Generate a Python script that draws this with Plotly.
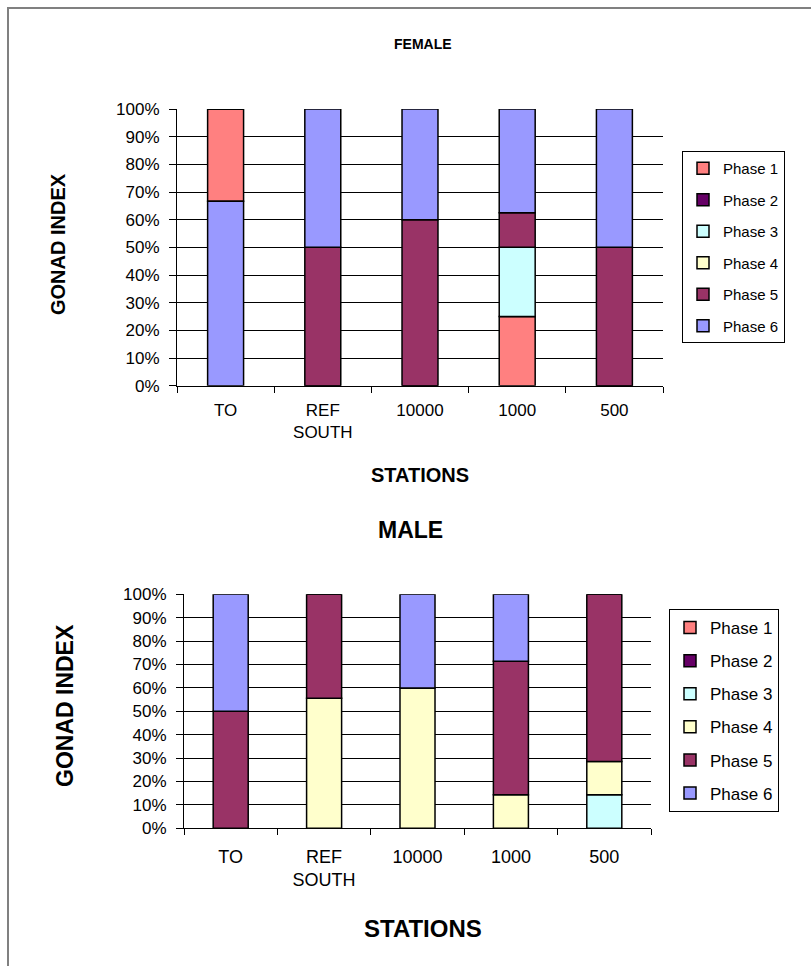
import plotly.graph_objects as go

W, H = 811, 966

stations = ["TO", "REF<br>SOUTH", "10000", "1000", "500"]
phases = ["Phase 1", "Phase 2", "Phase 3", "Phase 4", "Phase 5", "Phase 6"]
colors = ["#FF8080", "#660066", "#CCFFFF", "#FFFFCC", "#993366", "#9999FF"]
y_ticks = [0, 10, 20, 30, 40, 50, 60, 70, 80, 90, 100]
y_tick_labels = ["0%", "10%", "20%", "30%", "40%", "50%", "60%", "70%", "80%", "90%", "100%"]

# FEMALE (% of fish per station)
female_phase1 = [33.3, 0, 0, 25.0, 0]
female_phase2 = [0, 0, 0, 0, 0]
female_phase3 = [0, 0, 0, 25.0, 0]
female_phase4 = [0, 0, 0, 0, 0]
female_phase5 = [0, 50.0, 60.0, 12.5, 50.0]
female_phase6 = [66.7, 50.0, 40.0, 37.5, 50.0]
# stacking order (bottom -> top) per station
female_order = [[6, 1, 2, 3, 4, 5], [1, 2, 3, 4, 5, 6], [1, 2, 3, 4, 5, 6],
                [1, 2, 3, 4, 5, 6], [1, 2, 3, 4, 5, 6]]

# MALE
male_phase1 = [0, 0, 0, 0, 0]
male_phase2 = [0, 0, 0, 0, 0]
male_phase3 = [0, 0, 0, 0, 14.3]
male_phase4 = [0, 55.6, 60.0, 14.3, 14.3]
male_phase5 = [50.0, 44.4, 0, 57.1, 71.4]
male_phase6 = [50.0, 0, 40.0, 28.6, 0]
male_order = [[1, 2, 3, 4, 5, 6]] * 5

female = [female_phase1, female_phase2, female_phase3, female_phase4, female_phase5, female_phase6]
male = [male_phase1, male_phase2, male_phase3, male_phase4, male_phase5, male_phase6]

FONT = "Arial, Liberation Sans, sans-serif"


def bases(data, order):
    out = [[0] * len(stations) for _ in phases]
    for s in range(len(stations)):
        acc = 0
        for p in order[s]:
            out[p - 1][s] = acc
            acc += data[p - 1][s]
    return out


fig = go.Figure()

for data, order, xa, ya, leg, bw in [(female, female_order, "x", "y", "legend", 0.37),
                                     (male, male_order, "x2", "y2", "legend2", 0.375)]:
    b = bases(data, order)
    for i, name in enumerate(phases):
        fig.add_trace(go.Bar(
            x=stations, y=data[i], base=b[i], name=name,
            xaxis=xa, yaxis=ya, legend=leg, legendgroup=leg + name,
            width=bw,
            marker=dict(color=colors[i], line=dict(color="black", width=1.5)),
        ))


def px(x):
    return x / W


def py(y):
    return 1 - y / H


common_x = dict(type="category", showline=True, linecolor="black", linewidth=1,
                ticks="outside", tickson="boundaries", ticklen=6, tickcolor="black",
                showgrid=False, range=[-0.5, 4.5], color="black", automargin=False)
common_y = dict(range=[0, 100], tickmode="array", tickvals=y_ticks, ticktext=y_tick_labels,
                showgrid=True, gridcolor="black", gridwidth=1, showline=True,
                linecolor="black", linewidth=1, ticks="outside", ticklen=7,
                tickcolor="black", zeroline=False, color="black", automargin=False,
                ticklabelstandoff=6)

fig.update_layout(
    width=W, height=H,
    margin=dict(l=0, r=0, t=0, b=0, pad=0, autoexpand=False),
    paper_bgcolor="white", plot_bgcolor="white",
    barmode="overlay",
    font=dict(family=FONT, color="black"),
    xaxis=dict(common_x, domain=[px(177), px(663)], anchor="y",
               tickfont=dict(size=17), ticklabelstandoff=9),
    yaxis=dict(common_y, domain=[py(385.7), py(109)], anchor="x",
               tickfont=dict(size=17)),
    xaxis2=dict(common_x, domain=[px(184), px(651)], anchor="y2",
                tickfont=dict(size=18), ticklabelstandoff=12),
    yaxis2=dict(common_y, domain=[py(828.3), py(594.3)], anchor="x2",
                tickfont=dict(size=17)),
    legend=dict(x=px(682), y=py(151), xanchor="left", yanchor="top",
                bordercolor="black", borderwidth=1, bgcolor="white",
                font=dict(size=15), tracegroupgap=9, traceorder="grouped"),
    legend2=dict(x=px(669), y=py(609), xanchor="left", yanchor="top",
                 bordercolor="black", borderwidth=1, bgcolor="white",
                 font=dict(size=17), tracegroupgap=8, traceorder="grouped"),
    showlegend=True,
)

ann = [
    ("FEMALE", 423, 44, 14, 0),
    ("STATIONS", 420, 475, 20, 0),
    ("GONAD INDEX", 58, 244, 20, -90),
    ("MALE", 410, 530, 23, 0),
    ("STATIONS", 423, 928, 24, 0),
    ("GONAD INDEX", 65, 706, 23, -90),
]
for text, x, y, size, ang in ann:
    fig.add_annotation(text="<b>" + text + "</b>", x=px(x), y=py(y),
                       xref="paper", yref="paper", showarrow=False,
                       xanchor="center", yanchor="middle", textangle=ang,
                       font=dict(size=size, family=FONT, color="black"))

# outer frame (top and left edges visible)
fig.add_shape(type="rect", xref="paper", yref="paper",
              x0=px(8), x1=1.05, y0=-0.05, y1=py(8),
              line=dict(color="#808080", width=2), fillcolor="rgba(0,0,0,0)")

fig.write_html("out.html", config={"displayModeBar": False},
               post_script="document.body.style.margin='0';document.body.style.overflow='hidden';")
